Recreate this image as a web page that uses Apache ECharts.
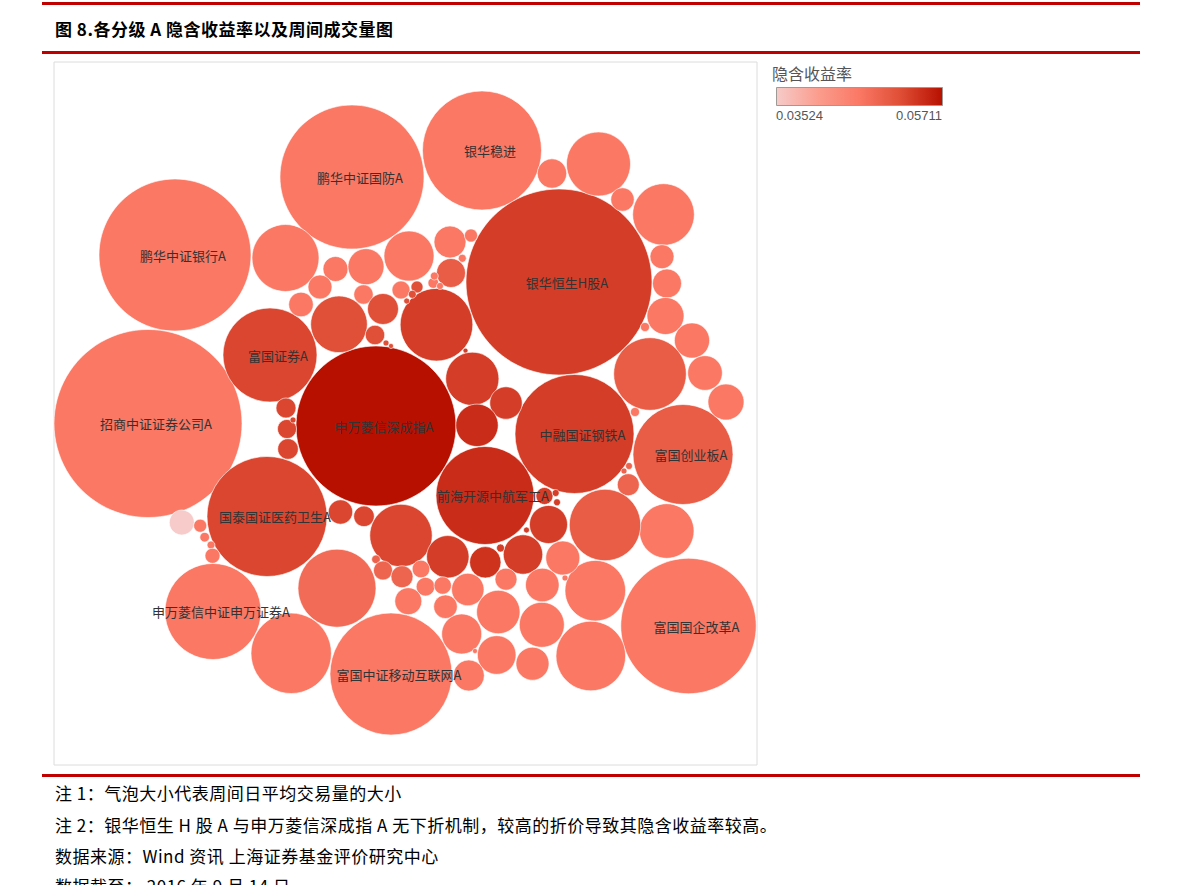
<!DOCTYPE html>
<html><head><meta charset="utf-8">
<script src="https://cdn.jsdelivr.net/npm/echarts@6.0.0/dist/echarts.min.js"></script>
<style>
html,body{margin:0;padding:0;background:#fff;width:1191px;height:885px;overflow:hidden;}
#chart{position:absolute;left:0;top:0;width:1191px;height:885px;}
.rule{position:absolute;left:42px;width:1098px;height:3px;background:#c00000;}
.t{position:absolute;left:55px;font-family:"Noto Sans CJK SC","Noto Sans",sans-serif;white-space:nowrap;color:#000;line-height:1;}
</style></head><body>
<div id="chart"></div>
<div class="rule" style="top:2px"></div>
<div class="t" style="top:20px;font-size:17px;font-weight:bold;letter-spacing:0.5px">图 8.各分级 A 隐含收益率以及周间成交量图</div>
<div class="rule" style="top:51px"></div>
<div class="rule" style="top:774px"></div>
<div class="t" style="top:784px;font-size:17px;letter-spacing:0.5px">注 1：气泡大小代表周间日平均交易量的大小</div>
<div class="t" style="top:816px;font-size:17px;letter-spacing:0.5px">注 2：银华恒生 H 股 A 与申万菱信深成指 A 无下折机制，较高的折价导致其隐含收益率较高。</div>
<div class="t" style="top:847px;font-size:17px;letter-spacing:0.5px">数据来源：Wind 资讯 上海证券基金评价研究中心</div>
<div class="t" style="top:877px;font-size:17px;letter-spacing:0.5px">数据截至： 2016 年 9 月 14 日</div>
<script>
// Labeled funds (first entries), remaining bubbles are unlabeled
const labels = ['鹏华中证国防A','银华稳进','鹏华中证银行A','招商中证证券公司A','富国证券A','申万菱信深成指A','银华恒生H股A','中融国证钢铁A','富国创业板A','前海开源中航军工A','国泰国证医药卫生A','申万菱信中证申万证券A','富国中证移动互联网A','富国国企改革A'];
// bubble centre positions (packing layout units)
const centerX = [352,482,175,148,270,376,559,574.5,683,485,267,213,391,688.5,
 552,598.5,622.5,663.5,662,667,665.5,645,692,705,726,650,635,628.3,629,624,666.7,605,
 285.5,335.5,366,320,301,363.5,339,383,375,386,391,409,450,471,462.3,451,436.5,401,417,433.3,434.3,440,412.3,406.7,465.5,
 472.3,506,477,286,287,288,293,
 340.5,364,401,447.8,485.3,523,500.5,376,383,402,421,425.5,442.7,467.8,506,408.3,445.5,498.3,461.7,496.7,468.8,541.8,532.5,590.8,595.3,542.3,562.8,548.5,544.5,555.7,557,526.5,565,475,
 181.8,200.2,204.7,211,212.5,291.2,337];
const centerY = [177,150.5,255,423.5,355,426,282,434,454.5,495.5,516.5,611.5,674,626,
 173.5,164,199.5,214.5,256.7,283.5,316,327,340.5,373,402,374,412,484.7,466,471,531,525,
 258,269,266.7,287,304.5,294.5,324.3,309,335,343,346,256,242,235.5,258.3,273,324.7,290,287,283,276,286,294.3,301,350.7,
 378.8,403,425.3,408,429,449,420,
 512,516.3,535.5,556.8,562.3,554.5,548,559.3,570.5,576.7,569,586.7,585.5,589.5,579.2,601.2,606.7,612,634,655,675.5,624.8,663.7,656,590.7,585,558,524.5,496,493,502.3,530,578,651,
 522.5,525.7,537.2,545,555.8,653.3,588.2];
// bubble radius (weekly average daily volume, same units)
const volumeRadius = [72,59.5,76,94,47,80,93,59.5,50,49,60,48,61,67.7,
 14.7,32,11.7,30.8,12,14.5,18.5,4.5,17.6,17.3,18,36.3,4.5,11,3.5,3,27.3,35.7,
 33.5,12.5,18,12,12.3,9.7,28.3,15.5,9.7,3,2.5,25,16,6.5,4,14.5,36.3,9,6,5.3,4,3.5,4,3,2.5,
 26.6,16.2,21.2,10,9.5,10.3,3,
 12.2,10.3,31.2,21.2,15.7,19.7,4,4.3,9.5,11,8.8,9.3,8.7,16.2,11,13.5,11.8,21.7,20,19.3,15.5,22.5,16.5,34.8,30.3,16.8,17,19,8.5,3.5,3.5,3,3,2.5,
 12.5,6.5,4.8,4,7.5,40.2,39];
// implied yield
const impliedYield = [0.0462,0.0462,0.0462,0.0462,0.0523,0.05711,0.0531,0.0531,0.0496,0.0546,0.0523,0.0462,0.0462,0.0462,
 0.0462,0.0462,0.0462,0.0462,0.0462,0.0462,0.0462,0.0462,0.0462,0.0462,0.0462,0.0496,0.0462,0.0486,0.0486,0.0486,0.0462,0.0496,
 0.0462,0.0462,0.0462,0.0462,0.0462,0.0462,0.0514,0.0514,0.0514,0.0514,0.0514,0.0462,0.0462,0.0462,0.0462,0.0496,0.0531,0.0462,0.0514,0.0462,0.0462,0.0462,0.0514,0.0514,0.0531,
 0.0531,0.0531,0.0546,0.0523,0.0523,0.0523,0.0523,
 0.0523,0.0523,0.0523,0.0531,0.0540,0.0531,0.0531,0.0490,0.0486,0.0486,0.0462,0.0462,0.0462,0.0462,0.0462,0.0462,0.0462,0.0462,0.0462,0.0462,0.0462,0.0462,0.0462,0.0462,0.0462,0.0462,0.0462,0.0531,0.0531,0.0531,0.0531,0.0531,0.0462,0.0462,
 0.03524,0.0462,0.0462,0.0462,0.0462,0.0462,0.0478];
const yieldMin = 0.03524, yieldMax = 0.05711;
const rampColors = ['#f6cbc9','#fb9d8e','#fa7864','#df4d35','#b71000'];

const data = centerX.map((x, i) => [x, centerY[i], volumeRadius[i], impliedYield[i]]);
const chart = echarts.init(document.getElementById('chart'), null, {renderer: 'svg'});
const font = '"Noto Sans CJK SC","Noto Sans",sans-serif';
chart.setOption({
  animation: false,
  grid: {left: 54, top: 62, width: 703, height: 703, show: true, borderColor: '#dcdcdc', borderWidth: 1, backgroundColor: '#fff'},
  xAxis: {type: 'value', min: 54, max: 757, show: false},
  yAxis: {type: 'value', min: 62, max: 765, inverse: true, show: false},
  visualMap: {show: false, type: 'continuous', dimension: 3, min: yieldMin, max: yieldMax, seriesIndex: 0, inRange: {color: rampColors}},
  graphic: [
    {type: 'text', left: 772, top: 65, style: {text: '隐含收益率', font: '16px ' + font, fill: '#555'}},
    {type: 'rect', left: 776, top: 87, shape: {width: 166, height: 18},
     style: {fill: new echarts.graphic.LinearGradient(0, 0, 1, 0, rampColors.map((c, i) => ({offset: i / (rampColors.length - 1), color: c}))), stroke: '#a09a96', lineWidth: 1}},
    {type: 'text', left: 776, top: 109, style: {text: yieldMin.toFixed(5), font: '13px "Liberation Sans",Arial,sans-serif', fill: '#555'}},
    {type: 'text', right: 1191 - 942, top: 109, style: {text: yieldMax.toFixed(5), font: '13px "Liberation Sans",Arial,sans-serif', fill: '#555'}}
  ],
  series: [{
    type: 'custom',
    coordinateSystem: 'cartesian2d',
    encode: {x: 0, y: 1},
    data: data,
    renderItem: function (params, api) {
      const c = api.coord([api.value(0), api.value(1)]);
      const r = api.size([api.value(2), api.value(2)])[0];
      const children = [{type: 'circle', shape: {cx: c[0], cy: c[1], r: r},
        style: {fill: api.visual('color'), stroke: '#fff', lineWidth: 0.6}}];
      const name = labels[params.dataIndex];
      if (name) {
        children.push({type: 'text', z2: 100, style: {text: name, x: c[0] + 8, y: c[1], align: 'center', verticalAlign: 'middle', fill: '#333', font: '13px ' + font}});
      }
      return {type: 'group', children: children};
    }
  }]
});
</script>
</body></html>
